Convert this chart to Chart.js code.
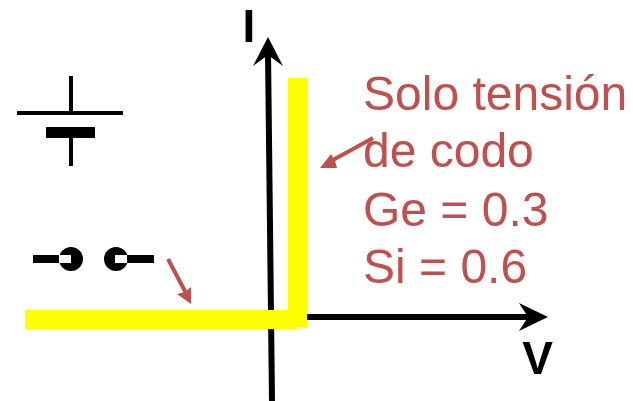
<!DOCTYPE html>
<html>
<head>
<meta charset="utf-8">
<style>html,body{margin:0;padding:0;background:#fff}canvas{display:block}</style>
<script src="https://cdn.jsdelivr.net/npm/chart.js@4"></script>
</head>
<body>
<canvas id="chart" width="633" height="401"></canvas>
<script>
// values, in picture units (y counts down)
const curveLowV=[25,297], curveLowI=[319.5,319.5];
const curveHighV=[297.5,297.5], curveHighI=[327,78];
const axisIx=[272,268], axisIy=[401,52];
const headIx=[268,283,268,253,268], headIy=[37,66,55,66,37];
const axisVx=[272,530], axisVy=[317,317];
const headVx=[548,519,528,519,548], headVy=[317,303,317,331,317];
const plateTopX=[17,123], plateTopY=[113,113];
const plateLowX=[46,95], plateLowY=[132.5,132.5];
const leadTopX=[71,71], leadTopY=[76,113];
const leadLowX=[71,71], leadLowY=[138,166];
const wireLeftX=[33,59], wireLeftY=[259,259];
const wireRightX=[127,154], wireRightY=[259,259];
const gapLeftX=[59,71], gapLeftY=[259,259];
const gapRightX=[115,127], gapRightY=[259,259];
const contactX=[71,116], contactY=[259,259];
const pointerOneX=[168,187], pointerOneY=[259,295];
const pointerOneHeadX=[191,177,185,191,191], pointerOneHeadY=[304,294,292,287,304];
const pointerTwoX=[373,333], pointerTwoY=[138,160];
const pointerTwoHeadX=[320,331,335,337,320], pointerTwoHeadY=[168,154,161,168,168];
const noteLines=['Solo tensión','de codo','Ge = 0.3','Si = 0.6'];
const noteX=[363,363,363,363], noteY=[110,167,226,283];
const axisNames=['I','V'];
const axisNameX=[249,537.5], axisNameY=[42,374];

const BLACK='#000000', YELLOW='#ffff00', RED='#c0504d', WHITE='#ffffff';
const toPts=(xs,ys)=>xs.map((x,i)=>({x,y:ys[i]}));
const stroke=(xs,ys,color,width)=>({data:toPts(xs,ys),showLine:true,borderColor:color,borderWidth:width,borderCapStyle:'butt',pointRadius:0,fill:false,tension:0});
const solid=(xs,ys,color)=>({data:toPts(xs,ys),showLine:true,borderColor:color,borderWidth:0,backgroundColor:color,pointRadius:0,fill:'shape',tension:0});

// first dataset ends up on top
const datasets=[
  stroke(gapLeftX,gapLeftY,WHITE,8),
  stroke(gapRightX,gapRightY,WHITE,8),
  {data:toPts(contactX,contactY),showLine:false,pointRadius:12,pointBackgroundColor:BLACK,pointBorderWidth:0},
  stroke(wireLeftX,wireLeftY,BLACK,8),
  stroke(wireRightX,wireRightY,BLACK,8),
  stroke(plateTopX,plateTopY,BLACK,4),
  stroke(plateLowX,plateLowY,BLACK,11),
  stroke(leadTopX,leadTopY,BLACK,4),
  stroke(leadLowX,leadLowY,BLACK,4),
  solid(pointerOneHeadX,pointerOneHeadY,RED),
  stroke(pointerOneX,pointerOneY,RED,4),
  solid(pointerTwoHeadX,pointerTwoHeadY,RED),
  stroke(pointerTwoX,pointerTwoY,RED,4),
  stroke(curveLowV,curveLowI,YELLOW,19),
  stroke(curveHighV,curveHighI,YELLOW,19),
  solid(headIx,headIy,BLACK),
  solid(headVx,headVy,BLACK),
  stroke(axisIx,axisIy,BLACK,6),
  stroke(axisVx,axisVy,BLACK,6)
];

const textPlugin={
  id:'texts',
  afterDraw(c){
    const {ctx,scales:{x,y}}=c;
    ctx.save();
    ctx.textBaseline='alphabetic';
    ctx.fillStyle=RED;
    ctx.font='48px "Liberation Sans"';
    ctx.textAlign='left';
    noteLines.forEach((t,i)=>ctx.fillText(t,x.getPixelForValue(noteX[i]),y.getPixelForValue(noteY[i])));
    ctx.fillStyle=BLACK;
    ctx.font='bold 46px "Liberation Sans"';
    ctx.textAlign='center';
    axisNames.forEach((t,i)=>ctx.fillText(t,x.getPixelForValue(axisNameX[i]),y.getPixelForValue(axisNameY[i])));
    ctx.restore();
  }
};

new Chart(document.getElementById('chart'),{
  type:'scatter',
  data:{datasets},
  options:{
    responsive:false,animation:false,
    layout:{padding:0,autoPadding:false},
    plugins:{legend:{display:false},tooltip:{enabled:false}},
    scales:{
      x:{type:'linear',min:0,max:633,display:false},
      y:{type:'linear',min:0,max:401,reverse:true,display:false}
    }
  },
  plugins:[textPlugin]
});
</script>
</body>
</html>
